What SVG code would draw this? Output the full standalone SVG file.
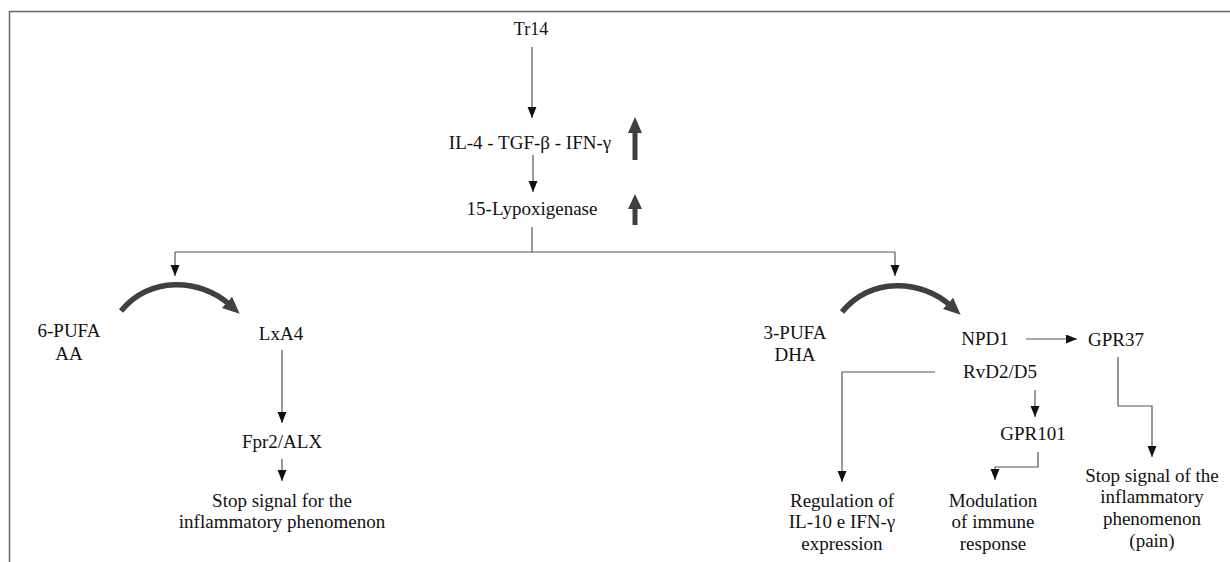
<svg xmlns="http://www.w3.org/2000/svg" width="1230" height="562" viewBox="0 0 1230 562">
<style>
text{font-family:'Liberation Serif','Tinos','DejaVu Serif',serif;font-size:19px;fill:#111;text-anchor:middle}
.ln{fill:none;stroke:#555;stroke-width:1.2}
.thick{fill:none;stroke:#404040;stroke-width:5.5}
.up{fill:#404040}
.frame{fill:none;stroke:#666;stroke-width:1.5}
</style>
<defs>
<marker id="ah" markerUnits="userSpaceOnUse" markerWidth="12" markerHeight="10" refX="11" refY="4.5" orient="auto">
<path d="M0,0 L11,4.5 L0,9 z" fill="#111"/>
</marker>
<marker id="big" markerUnits="userSpaceOnUse" markerWidth="20" markerHeight="16" refX="4" refY="7.5" orient="auto">
<path d="M0,0 L17,7.5 L0,15 z" fill="#404040"/>
</marker>
</defs>
<rect width="1230" height="562" fill="#fff"/>
<path class="frame" d="M9.5,562 V11.5 H1230"/>

<g id="connectors">
<path class="ln" d="M532,47 V118" marker-end="url(#ah)"/>
<path class="ln" d="M533,155 V192" marker-end="url(#ah)"/>
<path class="ln" d="M532,227 V252"/>
<path class="ln" d="M175,252 H895"/>
<path class="ln" d="M175,252 V276" marker-end="url(#ah)"/>
<path class="ln" d="M895,252 V276" marker-end="url(#ah)"/>
<path class="thick" d="M121,311 C150,276 200,278 230,305" marker-end="url(#big)"/>
<path class="thick" d="M842,312 C871,277 921,279 951,306" marker-end="url(#big)"/>
<path class="ln" d="M282,350 V423" marker-end="url(#ah)"/>
<path class="ln" d="M282,459 V481" marker-end="url(#ah)"/>
<path class="ln" d="M1026,339 H1077" marker-end="url(#ah)"/>
<path class="ln" d="M935,372 H842 V482" marker-end="url(#ah)"/>
<path class="ln" d="M1035,390 V417" marker-end="url(#ah)"/>
<path class="ln" d="M1038,452 V467 H995 V480" marker-end="url(#ah)"/>
<path class="ln" d="M1118,357 V406 H1152 V457" marker-end="url(#ah)"/>
<polygon class="up" points="632.5,160 637.5,160 637.5,133 642,133 635,117 628,133 632.5,133"/>
<polygon class="up" points="632.5,225 637.5,225 637.5,209 642,209 635,194 628,209 632.5,209"/>
</g>

<g font-family="Liberation Serif, Tinos, DejaVu Serif, serif">
<g id="tr14"><text x="531" y="35" style="font-size:18px">Tr14</text></g>
<g id="cytokines"><text x="530" y="149">IL-4 - TGF-β - IFN-γ</text></g>
<g id="lox15"><text x="532" y="215">15-Lypoxigenase</text></g>
<g id="pufa6"><text x="69" y="337">6-PUFA</text><text x="69" y="360">AA</text></g>
<g id="lxa4"><text x="281" y="340">LxA4</text></g>
<g id="fpr2"><text x="282" y="448">Fpr2/ALX</text></g>
<g id="stop1"><text x="282" y="507">Stop signal for the</text><text x="282" y="528">inflammatory phenomenon</text></g>
<g id="pufa3"><text x="795" y="339">3-PUFA</text><text x="795" y="361">DHA</text></g>
<g id="npd1"><text x="985" y="345">NPD1</text></g>
<g id="gpr37"><text x="1116" y="346">GPR37</text></g>
<g id="rvd2"><text x="1000" y="378">RvD2/D5</text></g>
<g id="gpr101"><text x="1033" y="440">GPR101</text></g>
<g id="regulation"><text x="842" y="507">Regulation of</text><text x="842" y="528">IL-10 e IFN-γ</text><text x="842" y="550">expression</text></g>
<g id="modulation"><text x="993" y="507">Modulation</text><text x="993" y="528">of immune</text><text x="993" y="550">response</text></g>
<g id="stop2"><text x="1152" y="482">Stop signal of the</text><text x="1152" y="503">inflammatory</text><text x="1152" y="525">phenomenon</text><text x="1152" y="547">(pain)</text></g>
</g>
</svg>
